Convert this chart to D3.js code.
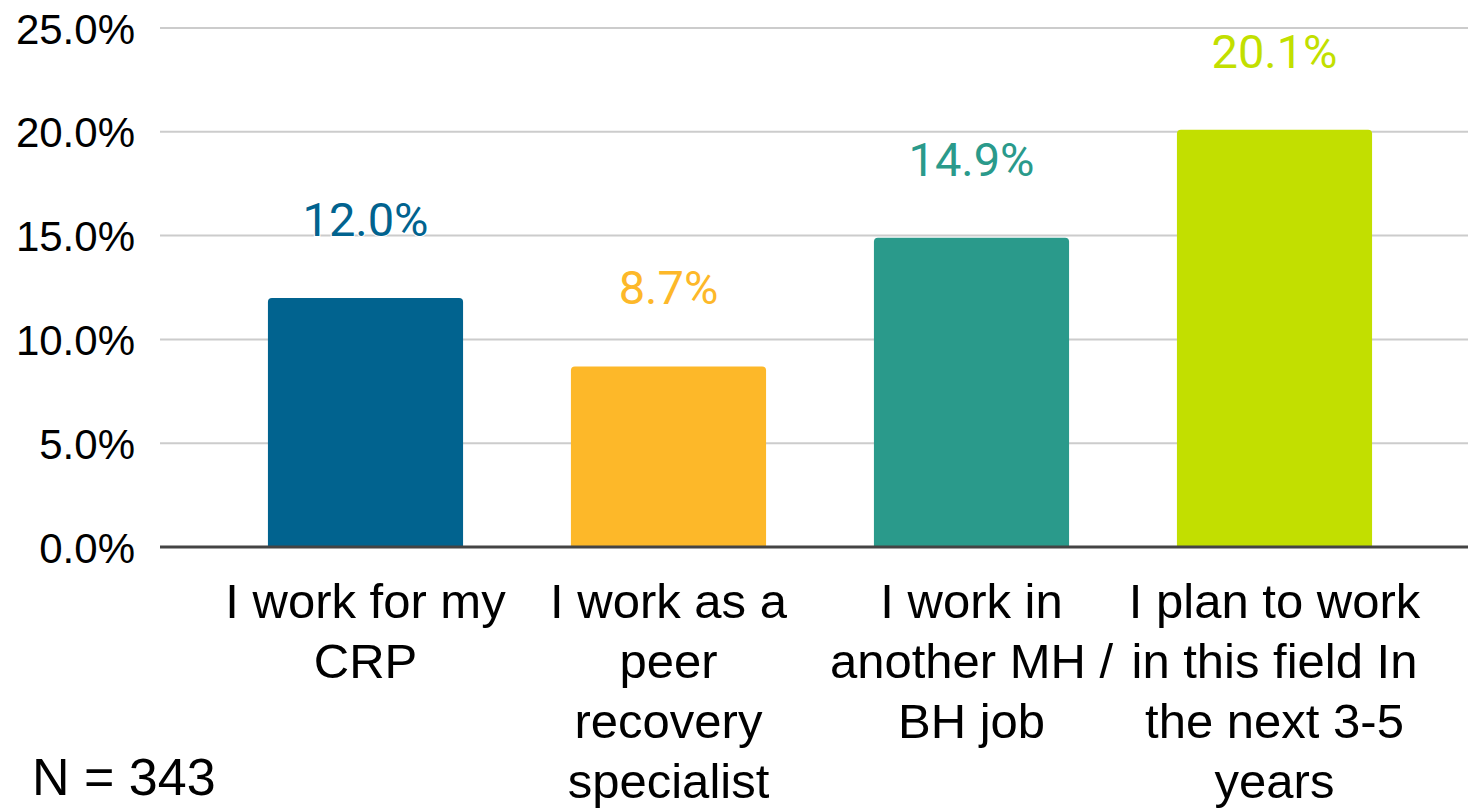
<!DOCTYPE html>
<html>
<head>
<meta charset="utf-8">
<script src="https://cdn.jsdelivr.net/npm/d3@7"></script>
<style>
  body { margin: 0; background: #fff; }
  svg { display: block; }
</style>
</head>
<body>
<svg class="chart"></svg>
<script>
const width = 1468,
  height = 808;

// data
const categories = [
  ['I work for my', 'CRP'],
  ['I work as a', 'peer', 'recovery', 'specialist'],
  ['I work in', 'another MH /', 'BH job'],
  ['I plan to work', 'in this field In', 'the next 3-5', 'years']
];
const values = [12.0, 8.7, 14.9, 20.1];
const colors = ['#01638f', '#fdb829', '#2a9a8b', '#c2df00'];
const yTicks = [0, 5, 10, 15, 20, 25];

const plotLeft = 160,
  plotBottom = 547,
  plotTop = 28;

let x = d3.scaleBand()
  .domain(d3.range(values.length))
  .range([214, 1426])
  .paddingInner(0.356)
  .paddingOuter(0.178);

let y = d3.scaleLinear()
  .domain([0, 25])
  .range([plotBottom, plotTop]);

let chart = d3.select(".chart")
  .attr("width", width)
  .attr("height", height);

// gridlines
chart.append("g")
  .selectAll("line")
  .data(yTicks.filter(d => d > 0))
  .join("line")
  .attr("x1", plotLeft)
  .attr("x2", width)
  .attr("y1", d => y(d))
  .attr("y2", d => y(d))
  .attr("stroke", "#cccccc")
  .attr("stroke-width", 2);

// y axis labels
let yAxis = d3.axisLeft(y)
  .tickValues(yTicks)
  .tickSize(0)
  .tickPadding(25)
  .tickFormat(d => d.toFixed(1) + "%");
let yg = chart.append("g")
  .attr("transform", `translate(${plotLeft},0)`)
  .call(yAxis);
yg.select(".domain").remove();
yg.selectAll("text")
  .attr("font-family", "Liberation Sans, Arial, sans-serif")
  .attr("font-size", 42)
  .attr("fill", "#000")
  .attr("dy", "0.36em");

// bars with slightly rounded tops
const r = 4;
chart.append("g")
  .selectAll("path")
  .data(values)
  .join("path")
  .attr("fill", (d, i) => colors[i])
  .attr("d", (d, i) => {
    let x0 = x(i), x1 = x(i) + x.bandwidth(), y0 = y(d), y1 = y(0);
    return `M${x0},${y1}V${y0 + r}Q${x0},${y0} ${x0 + r},${y0}H${x1 - r}Q${x1},${y0} ${x1},${y0 + r}V${y1}Z`;
  });

// baseline
chart.append("line")
  .attr("x1", plotLeft)
  .attr("x2", width)
  .attr("y1", y(0))
  .attr("y2", y(0))
  .attr("stroke", "#444444")
  .attr("stroke-width", 3);

// value labels
chart.append("g")
  .selectAll("text")
  .data(values)
  .join("text")
  .attr("x", (d, i) => x(i) + x.bandwidth() / 2)
  .attr("y", d => y(d) - 62)
  .attr("text-anchor", "middle")
  .attr("font-family", "Roboto, sans-serif")
  .attr("font-size", 47)
  .attr("fill", (d, i) => colors[i])
  .attr("stroke", "#fff")
  .attr("stroke-width", 2)
  .attr("paint-order", "stroke")
  .text(d => d.toFixed(1) + "%");

// category labels
let cat = chart.append("g")
  .selectAll("text")
  .data(categories)
  .join("text")
  .attr("text-anchor", "middle")
  .attr("font-family", "Liberation Sans, Arial, sans-serif")
  .attr("font-size", 49)
  .attr("fill", "#000");
cat.selectAll("tspan")
  .data((d, i) => d.map(s => ({ s, i })))
  .join("tspan")
  .attr("x", d => x(d.i) + x.bandwidth() / 2)
  .attr("y", (d, j) => 618 + j * 60)
  .text(d => d.s);

// sample size note
chart.append("text")
  .attr("x", 32)
  .attr("y", 795)
  .attr("font-family", "Liberation Sans, Arial, sans-serif")
  .attr("font-size", 52)
  .attr("fill", "#000")
  .text("N = 343");
</script>
</body>
</html>
